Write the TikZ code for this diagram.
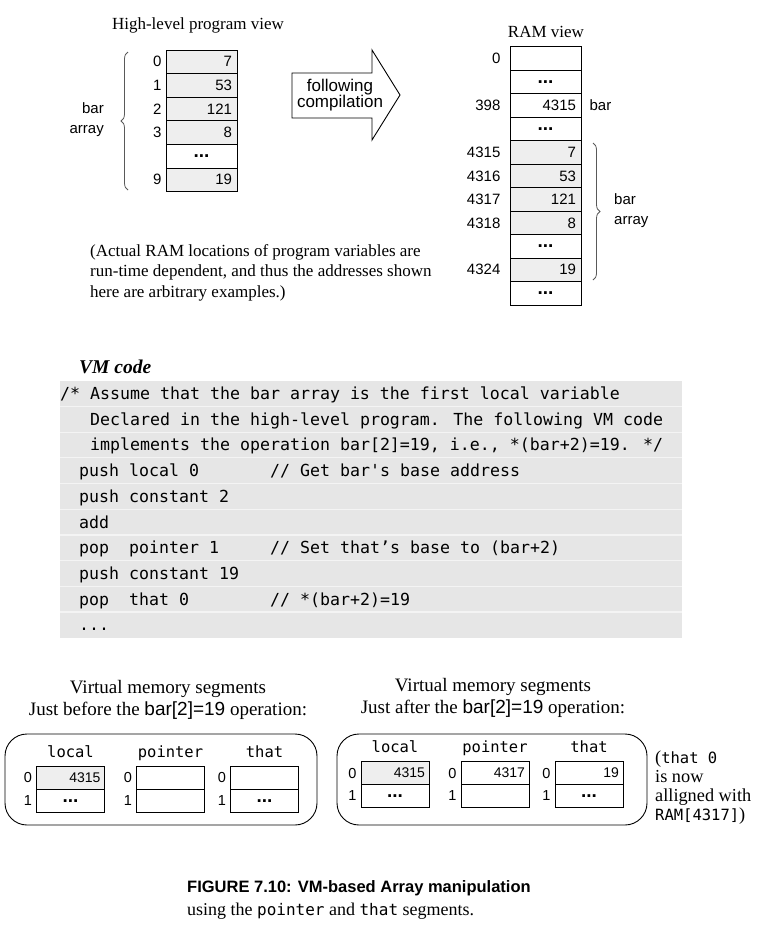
\documentclass[tikz,border=0pt]{standalone}
\usepackage{fontspec}
\setmainfont{Liberation Serif}
\setsansfont{Liberation Sans}
\newfontfamily\codefont{DejaVu Sans Mono}
\usetikzlibrary{decorations.pathreplacing}

\definecolor{cellgrey}{HTML}{EEEEEE}
\definecolor{codegrey}{HTML}{E6E6E6}
\definecolor{codesep}{HTML}{F4F4F4}

\tikzset{
  serif/.style={font=\fontsize{17}{20.5}\selectfont},
  cell/.style={draw, fill=cellgrey, line width=0.9pt, minimum height=23.6pt,
    text width=61pt, inner xsep=5pt, inner ysep=0pt, align=right,
    font=\sffamily\fontsize{15}{15}\selectfont},
  whitecell/.style={fill=white},
  ellip/.style={align=center, font=\sffamily\bfseries\fontsize{19}{19}\selectfont},
  idx/.style={anchor=east, inner sep=0pt, font=\sffamily\fontsize{15}{15}\selectfont},
  segcell/.style={cell, minimum height=22.8pt, text width=60pt, inner xsep=4pt,
    font=\sffamily\fontsize{14}{14}\selectfont},
  segidx/.style={idx, font=\sffamily\fontsize{14.5}{14.5}\selectfont},
  seglabel/.style={anchor=base, inner sep=0pt, font=\codefont\fontsize{15.5}{15.5}\selectfont},
  segtitle/.style={align=center, font=\fontsize{19}{22.5}\selectfont},
  code/.style={anchor=west, inner sep=0pt, text height=12pt, text depth=0pt,
    font=\codefont\fontsize{16.6}{16.6}\selectfont},
  arrowtext/.style={align=center, font=\sffamily\fontsize{17}{16.6}\selectfont},
  bracestyle/.style={decorate, decoration={brace, amplitude=7pt}, draw=black!65, line width=0.8pt},
  panel/.style={draw, line width=0.9pt, rounded corners=22pt}
}

\begin{document}
\begin{tikzpicture}[x=1pt,y=-1pt]
  \useasboundingbox (0,0) rectangle (758,927);

  % high-level view
  \node[serif] (hltitle) at (198,25) {High-level program view};
  \node[cell] (hl0) at (201.5,61.8) {7};
  \node[cell] (hl1) at (201.5,85.4) {53};
  \node[cell] (hl2) at (201.5,109) {121};
  \node[cell] (hl3) at (201.5,132.6) {8};
  \node[cell, whitecell, ellip] (hl4) at (201.5,156.2) {...};
  \node[cell] (hl5) at (201.5,179.8) {19};
  % indices
  \node[idx] (hli0) at ([xshift=-4pt]hl0.west) {0};
  \node[idx] (hli1) at ([xshift=-4pt]hl1.west) {1};
  \node[idx] (hli2) at ([xshift=-4pt]hl2.west) {2};
  \node[idx] (hli3) at ([xshift=-4pt]hl3.west) {3};
  \node[idx] (hli5) at ([xshift=-4pt]hl5.west) {9};
  % bar array brace
  \draw[bracestyle] (128,190) -- (128,52);
  \node[font=\sffamily\fontsize{15}{20}\selectfont, align=right, anchor=east, inner sep=0pt] (hlbar) at (104,120) {bar\\array};

  % compilation arrow
  \draw[fill=white, line width=0.9pt] (292,73) -- (372,73) -- (372,50) -- (400,95)
    -- (372,140) -- (372,118) -- (292,118) -- cycle;
  \node[arrowtext] (comp) at (340,95) {following\\compilation};

  % RAM view
  \node[serif] (ramtitle) at (546,32) {RAM view};
  \node[cell, whitecell] (ram0) at (545.5,58.7) {};
  \node[cell, whitecell, ellip] (ram1) at (545.5,82.2) {...};
  \node[cell, whitecell] (ram2) at (545.5,105.6) {4315};
  \node[cell, whitecell, ellip] (ram3) at (545.5,129.1) {...};
  \node[cell] (ram4) at (545.5,152.5) {7};
  \node[cell] (ram5) at (545.5,176) {53};
  \node[cell] (ram6) at (545.5,199.4) {121};
  \node[cell] (ram7) at (545.5,222.9) {8};
  \node[cell, whitecell, ellip] (ram8) at (545.5,246.3) {...};
  \node[cell] (ram9) at (545.5,269.8) {19};
  \node[cell, whitecell, ellip] (ram10) at (545.5,293.3) {...};
  % addresses
  \node[idx] (rama0) at ([xshift=-9pt]ram0.west) {0};
  \node[idx] (rama2) at ([xshift=-9pt]ram2.west) {398};
  \node[idx] (rama4) at ([xshift=-9pt]ram4.west) {4315};
  \node[idx] (rama5) at ([xshift=-9pt]ram5.west) {4316};
  \node[idx] (rama6) at ([xshift=-9pt]ram6.west) {4317};
  \node[idx] (rama7) at ([xshift=-9pt]ram7.west) {4318};
  \node[idx] (rama9) at ([xshift=-9pt]ram9.west) {4324};
  \node[idx, anchor=west] (rambar) at ([xshift=8pt]ram2.east) {bar};
  % bar array brace
  \draw[bracestyle] (593,143) -- (593,280);
  \node[font=\sffamily\fontsize{15}{20}\selectfont, align=left, anchor=west, inner sep=0pt] (rambararr) at (614,211) {bar\\array};

  % note
  \node[serif, align=left, anchor=north west, inner sep=0pt] (note) at (90,244)
    {(Actual RAM locations of program variables are\\
     run-time dependent, and thus the addresses shown\\
     here are arbitrary examples.)};

  % VM code
  \node[font=\bfseries\itshape\fontsize{19.5}{19.5}\selectfont, anchor=west, inner sep=0pt] (vmtitle) at (79,367) {VM code};
  \fill[codegrey] (60,380.7) rectangle (682,637.7);
  \draw[codesep, line width=1.2pt] (60,406.4) -- (682,406.4) (60,432.1) -- (682,432.1)
    (60,457.8) -- (682,457.8) (60,483.5) -- (682,483.5) (60,509.2) -- (682,509.2)
    (60,534.9) -- (682,534.9) (60,560.6) -- (682,560.6) (60,586.3) -- (682,586.3)
    (60,612) -- (682,612);
  \node[code] (c1) at (60,393.5) {/* Assume that the bar array is the first local variable};
  \node[code] (c2) at (90,419.2) {Declared in the high-level program. The following VM code};
  \node[code] (c3) at (90,444.9) {implements the operation bar[2]=19, i.e., *(bar+2)=19. */};
  \node[code] (c4) at (79,470.6) {push local 0};
  \node[code] (c4c) at (270,470.6) {// Get bar's base address};
  \node[code] (c5) at (79,496.3) {push constant 2};
  \node[code] (c6) at (79,522) {add};
  \node[code] (c7) at (79,547.7) {pop\ \ pointer 1};
  \node[code] (c7c) at (270,547.7) {// Set that’s base to (bar+2)};
  \node[code] (c8) at (79,573.4) {push constant 19};
  \node[code] (c9) at (79,599.1) {pop\ \ that 0};
  \node[code] (c9c) at (270,599.1) {// *(bar+2)=19};
  \node[code] (c10) at (79,624.8) {...};

  % segments before
  \node[segtitle] (beforetitle) at (168,700)
    {Virtual memory segments\\Just before the {\sffamily bar[2]=19} operation:};
  \draw[panel] (5,734) rectangle (317,825);
  \node[seglabel] (blocal) at (70.5,757) {local};
  \node[seglabel] (bpointer) at (170.5,757) {pointer};
  \node[seglabel] (bthat) at (264.5,757) {that};
  \node[segcell] (bl0) at (70.5,777.9) {4315};
  \node[segcell, whitecell, ellip] (bl1) at (70.5,800.7) {...};
  \node[segcell, whitecell] (bp0) at (170.5,777.9) {};
  \node[segcell, whitecell] (bp1) at (170.5,800.7) {};
  \node[segcell, whitecell] (bt0) at (264.5,777.9) {};
  \node[segcell, whitecell, ellip] (bt1) at (264.5,800.7) {...};
  \node[segidx] (bli0) at ([xshift=-4pt]bl0.west) {0};
  \node[segidx] (bli1) at ([xshift=-4pt]bl1.west) {1};
  \node[segidx] (bpi0) at ([xshift=-4pt]bp0.west) {0};
  \node[segidx] (bpi1) at ([xshift=-4pt]bp1.west) {1};
  \node[segidx] (bti0) at ([xshift=-4pt]bt0.west) {0};
  \node[segidx] (bti1) at ([xshift=-4pt]bt1.west) {1};

  % segments after
  \node[segtitle] (aftertitle) at (493,698)
    {Virtual memory segments\\Just after the {\sffamily bar[2]=19} operation:};
  \draw[panel] (337,734) rectangle (647,825);
  \node[seglabel] (alocal) at (395,752.5) {local};
  \node[seglabel] (apointer) at (495,752.5) {pointer};
  \node[seglabel] (athat) at (589,752.5) {that};
  \node[segcell] (al0) at (395,773) {4315};
  \node[segcell, whitecell, ellip] (al1) at (395,795.8) {...};
  \node[segcell, whitecell] (ap0) at (495,773) {4317};
  \node[segcell, whitecell] (ap1) at (495,795.8) {};
  \node[segcell, whitecell] (at0) at (589,773) {19};
  \node[segcell, whitecell, ellip] (at1) at (589,795.8) {...};
  \node[segidx] (ali0) at ([xshift=-4pt]al0.west) {0};
  \node[segidx] (ali1) at ([xshift=-4pt]al1.west) {1};
  \node[segidx] (api0) at ([xshift=-4pt]ap0.west) {0};
  \node[segidx] (api1) at ([xshift=-4pt]ap1.west) {1};
  \node[segidx] (ati0) at ([xshift=-4pt]at0.west) {0};
  \node[segidx] (ati1) at ([xshift=-4pt]at1.west) {1};
  \node[align=left, anchor=north west, inner sep=0pt, font=\fontsize{18.3}{18.8}\selectfont] (sidenote) at (655,751)
    {({\codefont\fontsize{15.5}{18.8}\selectfont that 0}\\is now\\alligned with\\{\codefont\fontsize{15.5}{18.8}\selectfont RAM[4317]})};

  % caption
  \node[anchor=west, inner sep=0pt, font=\sffamily\bfseries\fontsize{16.5}{16.5}\selectfont] (caphead) at (187,888)
    {FIGURE 7.10: VM-based Array manipulation};
  \node[anchor=west, inner sep=0pt, font=\fontsize{18}{18}\selectfont] (capline) at (187,911)
    {using the {\codefont\fontsize{16}{17}\selectfont pointer} and {\codefont\fontsize{16}{17}\selectfont that} segments.};
\end{tikzpicture}
\end{document}
